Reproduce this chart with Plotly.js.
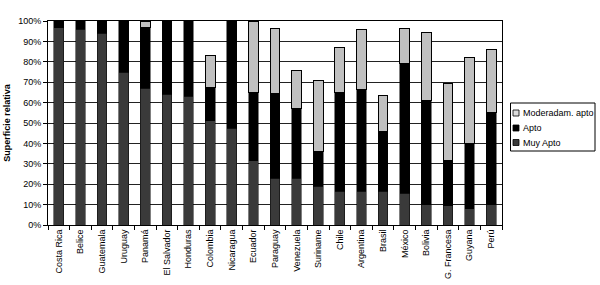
<!DOCTYPE html>
<html>
<head>
<meta charset="utf-8">
<script src="https://cdn.plot.ly/plotly-3.0.1.min.js"></script>
<style>html,body{margin:0;padding:0;background:#fff;}#chart{width:600px;height:285px;}</style>
</head>
<body>
<div id="chart"></div>
<script>
const countries = ["Costa Rica","Belice","Guatemala","Uruguay","Panamá","El Salvador","Honduras","Colombia","Nicaragua","Ecuador","Paraguay","Venezuela","Suriname","Chile","Argentina","Brasil","México","Bolivia","G. Francesa","Guyana","Perú"];
const muyApto   = [96.7, 96, 94, 75, 67, 64, 63, 51, 47.5, 31.5, 23, 23, 19, 16.5, 16.5, 16.5, 15.5, 10, 9.5, 8, 10];
const apto      = [3.3, 4, 6, 25, 30, 36, 37, 16.5, 52.5, 33.5, 41.5, 34, 17, 48.5, 50, 29.5, 63.5, 51, 22, 32, 45];
const moderadam = [0, 0, 0, 0, 3, 0, 0, 15.5, 0, 35, 32, 18.5, 35, 22, 29.5, 17.5, 17.5, 33.5, 38, 42, 31];
const yTicks = [0,10,20,30,40,50,60,70,80,90,100];
const seriesNames = ["Moderadam. apto", "Apto", "Muy Apto"];
const seriesColors = ["#dcdcdc", "#000000", "#3a3a3a"];

const font = {family: "Liberation Sans, Arial, sans-serif", size: 9, color: "#000"};

const traces = [
  {type: "bar", name: seriesNames[2], x: countries, y: muyApto,
   marker: {color: seriesColors[2], line: {color: "#000", width: 0.5}}},
  {type: "bar", name: seriesNames[1], x: countries, y: apto,
   marker: {color: seriesColors[1], line: {color: "#000", width: 0.5}}},
  {type: "bar", name: seriesNames[0], x: countries, y: moderadam,
   marker: {color: "#e6e6e6", line: {color: "#000", width: 1},
            pattern: {shape: ".", fgcolor: "#8a8a8a", bgcolor: "#ebebeb", size: 2, solidity: 0.5}}}
];

// manual legend (pixel positions converted to paper coords)
const plotL = 48, plotR = 502, plotT = 21, plotB = 225;
const px = v => (v - plotL) / (plotR - plotL);
const py = v => (plotB - v) / (plotB - plotT);
const itemY = [113, 128, 142.5];
const shapes = [{type: "rect", xref: "paper", yref: "paper",
  x0: px(510.5), x1: px(595), y0: py(151), y1: py(103),
  line: {color: "#000", width: 1}, fillcolor: "#fff"}];
const annotations = [];
seriesNames.forEach((n, i) => {
  shapes.push({type: "rect", xref: "paper", yref: "paper",
    x0: px(513), x1: px(519), y0: py(itemY[i] + 3), y1: py(itemY[i] - 3),
    line: {color: "#000", width: 0.8}, fillcolor: seriesColors[i]});
  annotations.push({xref: "paper", yref: "paper", x: px(520.5), y: py(itemY[i]),
    xanchor: "left", yanchor: "middle", showarrow: false, text: n,
    font: {family: font.family, size: 9, color: "#000"}});
});

const layout = {
  width: 600, height: 285,
  margin: {l: 48, r: 98, t: 21, b: 60, pad: 0, autoexpand: false},
  paper_bgcolor: "#fff", plot_bgcolor: "#fff",
  barmode: "stack", bargap: 0.55,
  font: font,
  showlegend: false,
  shapes: shapes,
  annotations: annotations,
  xaxis: {type: "category", tickangle: -90, tickson: "boundaries",
          ticks: "outside", ticklen: 4, tickcolor: "#000",
          showline: true, linecolor: "#000", linewidth: 1, mirror: true,
          showgrid: false, tickfont: font, automargin: false},
  yaxis: {range: [0, 100], tickvals: yTicks, ticktext: yTicks.map(v => v + "%"),
          ticks: "outside", ticklen: 4, tickcolor: "#000",
          showline: true, linecolor: "#000", linewidth: 1, mirror: true,
          showgrid: true, gridcolor: "#222", gridwidth: 1, zeroline: false,
          tickfont: font, automargin: false,
          title: {text: "<b>Superficie relativa</b>", font: {family: font.family, size: 9, color: "#000"}, standoff: 6}}
};

Plotly.newPlot("chart", traces, layout, {displayModeBar: false, staticPlot: true});
</script>
</body>
</html>
